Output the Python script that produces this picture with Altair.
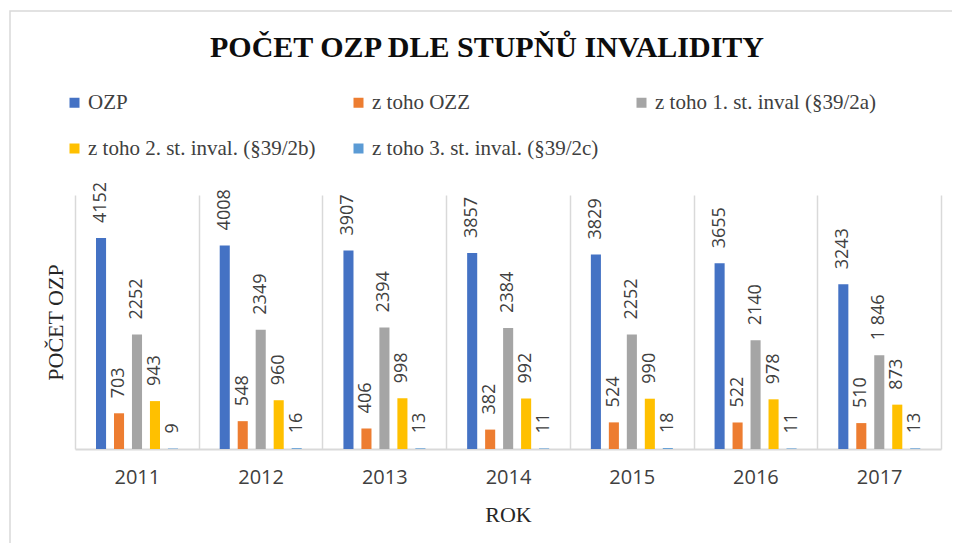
import altair as alt
import pandas as pd

years = ["2011", "2012", "2013", "2014", "2015", "2016", "2017"]
series_names = [
    "OZP",
    "z toho OZZ",
    "z toho 1. st. inval (§39/2a)",
    "z toho 2. st. inval. (§39/2b)",
    "z toho 3. st. inval. (§39/2c)",
]
ozp = [4152, 4008, 3907, 3857, 3829, 3655, 3243]
ozz = [703, 548, 406, 382, 524, 522, 510]
st1 = [2252, 2349, 2394, 2384, 2252, 2140, 1846]
st2 = [943, 960, 998, 992, 990, 978, 873]
st3 = [9, 16, 13, 11, 18, 11, 13]
st1_labels = ["2252", "2349", "2394", "2384", "2252", "2140", "1 846"]
colors = ["#4472C4", "#ED7D31", "#A5A5A5", "#FFC000", "#5B9BD5"]

rows = []
all_series = [ozp, ozz, st1, st2, st3]
for si, (name, vals) in enumerate(zip(series_names, all_series)):
    for yi, y in enumerate(years):
        lab = st1_labels[yi] if si == 2 else str(vals[yi])
        rows.append({"rok": y, "serie": name, "order": si, "hodnota": vals[yi], "label": lab})
df = pd.DataFrame(rows)

W, H = 866, 254
GRID = "#d9d9d9"

x_enc = alt.X("rok:N", sort=years, scale=alt.Scale(paddingInner=0, paddingOuter=0),
              axis=alt.Axis(title="ROK", labelAngle=0, ticks=False, grid=True, tickBand="extent",
                            gridColor=GRID, gridWidth=1.5, domainColor=GRID, domainWidth=2,
                            labelFont="Open Sans", labelFontSize=20, labelColor="#404040",
                            labelPadding=18, titleFont="Liberation Serif", titleFontSize=22,
                            titleFontWeight="normal", titleColor="#262626", titlePadding=17))
xo_enc = alt.XOffset("serie:N", sort=series_names,
                     scale=alt.Scale(range=[21, 103], paddingInner=0.44, paddingOuter=0))
y_enc = alt.Y("hodnota:Q", scale=alt.Scale(domain=[0, 5000], nice=False),
              axis=alt.Axis(title="POČET OZP", labels=False, ticks=False, grid=False, domain=False,
                            titleFont="Liberation Serif", titleFontSize=22, titleFontWeight="normal",
                            titleColor="#262626", titlePadding=8))

base = alt.Chart(df)

bars = base.mark_bar().encode(
    x=x_enc,
    xOffset=xo_enc,
    y=y_enc,
    color=alt.Color("serie:N", sort=series_names,
                    scale=alt.Scale(domain=series_names, range=colors),
                    legend=alt.Legend(title=None, orient="none", legendX=-11, legendY=-103,
                                      direction="horizontal", columns=3, columnPadding=32,
                                      rowPadding=24, symbolType="square", symbolSize=100,
                                      symbolStrokeWidth=0, labelFont="Liberation Serif",
                                      labelFontSize=21, labelColor="#404040", labelLimit=500,
                                      labelOffset=3, padding=0)),
)

labels = base.mark_text(angle=270, align="left", baseline="middle", dx=15,
                        font="Open Sans", fontSize=18, color="#404040").encode(
    x=alt.X("rok:N", sort=years),
    xOffset=alt.XOffset("serie:N", sort=series_names),
    y=alt.Y("hodnota:Q"),
    text="label:N",
)

frame = alt.Chart(pd.DataFrame({"f": [0]})).mark_rect(
    fillOpacity=0, stroke=GRID, strokeWidth=1.5
).encode(x=alt.value(-65), x2=alt.value(2000), y=alt.value(-184), y2=alt.value(2000))

chart = alt.layer(frame, bars, labels).properties(
    width=W, height=H,
    title=alt.TitleParams("POČET OZP DLE STUPŇŮ INVALIDITY", font="Liberation Serif",
                          fontSize=30, fontWeight="bold", color="#0d0d0d",
                          anchor="middle", dx=-21, offset=0, dy=53),
    autosize=alt.AutoSizeParams(type="none"),
    padding={"left": 67, "top": 187, "right": 11, "bottom": 94},
).configure_view(stroke="transparent")

chart.save("out.html", embed_options={"renderer": "svg", "actions": False})
